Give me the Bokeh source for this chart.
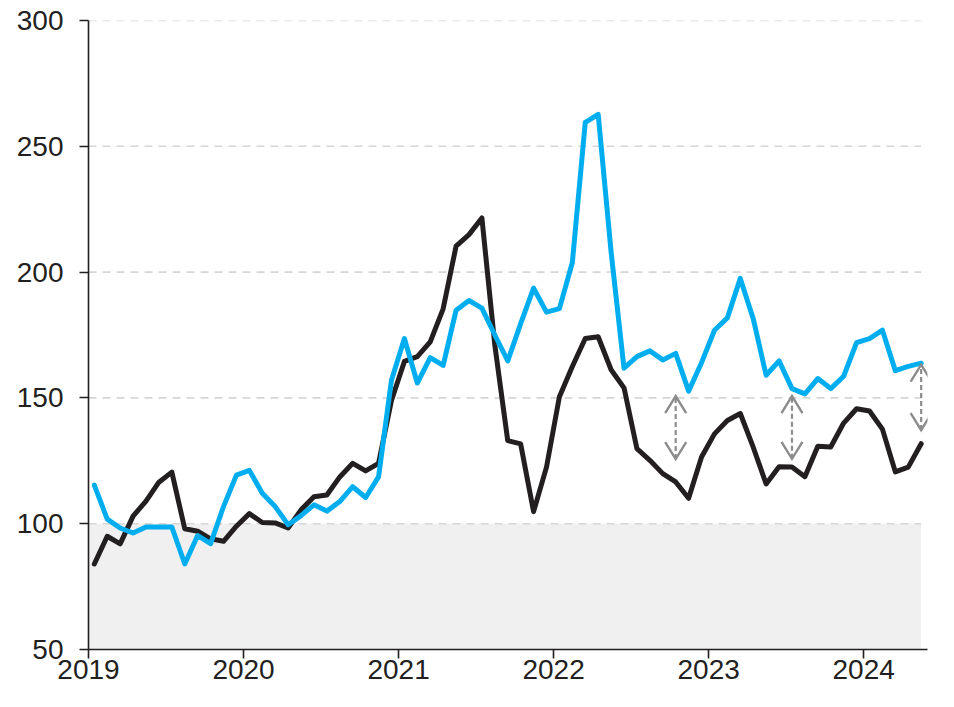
from bokeh.plotting import figure
from bokeh.models import Range1d, FixedTicker
from bokeh.embed import file_html
from bokeh.resources import INLINE

# ---- data (monthly, Jan 2019 .. May 2024) ----
year_labels = ["2019", "2020", "2021", "2022", "2023", "2024"]
y_ticks = [50, 100, 150, 200, 250, 300]

black_series = [
    84, 95, 92, 103, 109, 116.5, 120.5, 98, 97, 94, 93, 99,                      # 2019
    104, 100.5, 100.3, 98.3, 105.5, 110.7, 111.4, 118.6, 124, 121, 124, 149,     # 2020
    164.5, 166.4, 172.3, 185.4, 210.3, 214.9, 221.5, 171, 133, 131.7, 104.8, 122.5,  # 2021
    150.5, 162.5, 173.6, 174.3, 161.2, 154, 129.8, 125.2, 119.9, 116.6, 110.1, 126.5,  # 2022
    135.7, 141, 143.8, 130.4, 115.8, 122.6, 122.5, 118.7, 130.8, 130.5, 140, 145.7,  # 2023
    144.8, 137.6, 120.6, 122.5, 131.8,                                           # 2024
]
blue_series = [
    115.3, 101.8, 98.3, 96.3, 98.7, 98.7, 98.7, 84, 95.3, 92.1, 106.8, 119.3,
    121.2, 112.1, 106.8, 99.6, 103.2, 107.5, 105, 108.8, 114.7, 110.4, 118.6, 157,
    173.6, 155.9, 166, 162.9, 184.8, 188.7, 185.7, 175, 164.7, 179.5, 193.6, 184.1,
    185.5, 203.8, 259.5, 262.7, 208, 161.8, 166.4, 168.7, 165.1, 167.7, 152.7, 164,
    176.9, 181.8, 197.5, 181.5, 159, 164.7, 153.7, 151.6, 157.7, 153.7, 158.6, 172,
    173.6, 176.9, 160.8, 162.5, 163.8,
]

# gap arrows (month index, lower end, upper end)
arrow_months = [45, 54, 64]
arrow_low = [125.7, 125.8, 137.2]
arrow_high = [150.7, 150.7, 163.2]

shade_bottom, shade_top = 50, 100

# ---- layout ----
W, H = 938, 691
B_LEFT, B_RIGHT, B_TOP, B_BOTTOM = 88, 11, 20, 42
X_MAX = 64.94
Y_MIN, Y_MAX = 50, 300

n = len(black_series)
mid = 0.45
xs = [i + mid for i in range(n)]
x_end = xs[-1]
year_ticks = [12 * k for k in range(len(year_labels))]

p = figure(width=W, height=H, output_backend="svg", toolbar_location=None,
           x_range=Range1d(0, X_MAX), y_range=Range1d(Y_MIN, Y_MAX),
           min_border_left=B_LEFT, min_border_right=B_RIGHT, min_border_top=B_TOP,
           min_border_bottom=B_BOTTOM)
p.outline_line_color = None
p.background_fill_color = "white"
p.xgrid.visible = False
p.ygrid.visible = False

# shaded region below 100
p.quad(left=[0], right=[x_end], bottom=[shade_bottom], top=[shade_top],
       fill_color="#f0f0f0", line_color=None)

# dashed grid lines, up to the last observation
grid_levels = y_ticks[1:]
p.multi_line(xs=[[0, x_end] for _ in grid_levels], ys=[[g, g] for g in grid_levels],
             line_color="#d6d6d6", line_width=1.6, line_dash="8 6")

# series
line_kw = dict(line_width=5, line_join="round", line_cap="round")
p.line(xs, black_series, line_color="#231f20", **line_kw)
p.line(xs, blue_series, line_color="#00aeef", **line_kw)

# gap arrows: dashed shaft + solid open chevron heads (head size given in pixels)
px_per_x = (W - B_LEFT - B_RIGHT) / X_MAX
px_per_y = (H - B_TOP - B_BOTTOM) / (Y_MAX - Y_MIN)
hw = 10.5 / px_per_x   # half width of head
hh = 17.0 / px_per_y   # height of head
ax_pos = [m + mid for m in arrow_months]
p.segment(x0=ax_pos, y0=arrow_low, x1=ax_pos, y1=arrow_high,
          line_color="#8c8c8c", line_width=2.2, line_dash="5 3")
head_xs, head_ys = [], []
for x, lo, hi in zip(ax_pos, arrow_low, arrow_high):
    head_xs += [[x - hw, x, x + hw], [x - hw, x, x + hw]]
    head_ys += [[hi - hh, hi, hi - hh], [lo + hh, lo, lo + hh]]
p.multi_line(xs=head_xs, ys=head_ys, line_color="#8c8c8c", line_width=2.4,
             line_dash="solid", line_join="miter", line_cap="butt")

# axes
for ax in (p.xaxis[0], p.yaxis[0]):
    ax.axis_line_color = "#231f20"
    ax.axis_line_width = 1.6
    ax.major_tick_line_color = "#231f20"
    ax.major_tick_line_width = 1.6
    ax.major_tick_out = 9
    ax.major_tick_in = 0
    ax.minor_tick_line_color = None
    ax.major_label_text_font = "Liberation Sans"
    ax.major_label_text_font_size = "28px"
    ax.major_label_text_color = "#231f20"

p.xaxis[0].ticker = FixedTicker(ticks=year_ticks)
p.xaxis[0].major_label_overrides = {t: lab for t, lab in zip(year_ticks, year_labels)}
p.xaxis[0].major_label_standoff = 1
p.yaxis[0].ticker = FixedTicker(ticks=y_ticks)
p.yaxis[0].major_label_standoff = 16

open("out.html", "w").write(file_html(p, INLINE))
